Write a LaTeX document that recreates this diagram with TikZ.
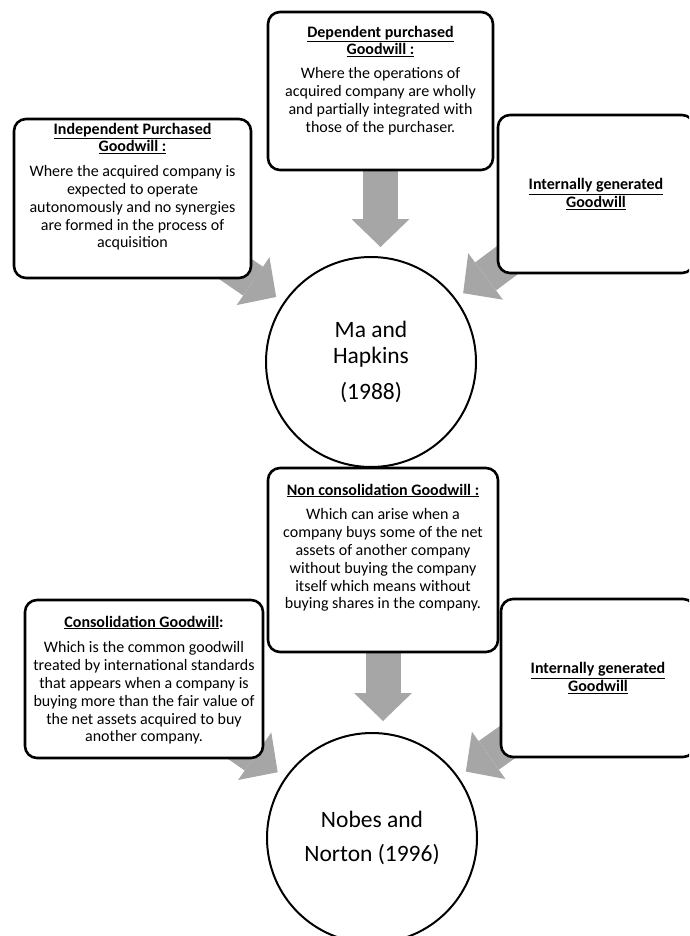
\documentclass[tikz,border=0pt]{standalone}
\usepackage{fontspec}
\setmainfont{Carlito}
\usepackage{tikz}
\usetikzlibrary{positioning,arrows.meta,backgrounds}
\definecolor{arrowgray}{RGB}{166,166,166}
\tikzset{
  gbox/.style={draw=black, line width=2.6pt, rounded corners=12pt, fill=white},
  gtext/.style={align=center, inner sep=0pt, font=\fontsize{16}{17.8}\selectfont},
  gcircle/.style={circle, draw=black, line width=2pt, fill=white, minimum size=210pt, inner sep=0pt, align=center},
  bigarrow/.style={draw=arrowgray, line width=35pt, -{Triangle[length=28pt,width=58pt,line width=0pt]}, shorten >=9pt}
}
\newcommand{\gwtitle}[1]{\underline{\textbf{#1}}}

\begin{document}
\begin{tikzpicture}[x=1pt,y=-1pt]
\useasboundingbox (0,0) rectangle (689,936);
\clip (0,0) rectangle (689,936);
% Ma and Hapkins (1988)
\node[gcircle, font=\fontsize{23.5}{26}\selectfont] (ma) at (371,362) {Ma and\\Hapkins\\[10pt](1988)};
\node[gbox, minimum width=225pt, minimum height=158pt] (dep) at (380.5,91) {}; % dependent purchased
\node[gtext, below=15pt of dep.north] (deptext) {\gwtitle{Dependent purchased}\\\gwtitle{Goodwill :}\\[6pt]Where the operations of\\acquired company are wholly\\and partially integrated with\\those of the purchaser.};
\node[gbox, minimum width=237pt, minimum height=159pt] (ind) at (132.5,198.5) {}; % independent purchased
\node[gtext, below=5pt of ind.north] (indtext) {\gwtitle{Independent Purchased}\\\gwtitle{Goodwill :}\\[7pt]Where the acquired company is\\expected to operate\\autonomously and no synergies\\are formed in the process of\\acquisition};
\node[gbox, gtext, minimum width=196pt, minimum height=158pt] (intA) at (596,194) {\gwtitle{Internally generated}\\\gwtitle{Goodwill}}; % cut off at the right edge
% Nobes and Norton (1996)
\node[gcircle, font=\fontsize{23.5}{34}\selectfont] (nn) at (372,838) {Nobes and\\Norton (1996)};
\node[gbox, minimum width=230pt, minimum height=184pt] (noncons) at (383,560) {}; % non consolidation
\node[gtext, below=17pt of noncons.north] (nonconstext) {\gwtitle{Non consolidation Goodwill :}\\[7pt]Which can arise when a\\company buys some of the net\\assets of another company\\without buying the company\\itself which means without\\buying shares in the company.};
\node[gbox, minimum width=238pt, minimum height=158pt] (cons) at (144,679) {}; % consolidation
\node[gtext, below=17pt of cons.north] (constext) {\gwtitle{Consolidation Goodwill}\textbf{:}\\[8pt]Which is the common goodwill\\treated by international standards\\that appears when a company is\\buying more than the fair value of\\the net assets acquired to buy\\another company.};
\node[gbox, gtext, minimum width=194pt, minimum height=158pt] (intB) at (598,678) {\gwtitle{Internally generated}\\\gwtitle{Goodwill}};
% grey arrows behind the boxes
\begin{scope}[on background layer]
\draw[bigarrow] (dep.center) -- (dep.center |- ma.north);
\draw[bigarrow] (ind.center) -- (ma);
\draw[bigarrow] (intA.center) -- (ma);
\draw[bigarrow, shorten >=11pt] (noncons.center) -- (noncons.center |- nn.north);
\draw[bigarrow] (cons.center) -- (nn);
\draw[bigarrow] (intB.center) -- (nn);
\end{scope}
\end{tikzpicture}
\end{document}
